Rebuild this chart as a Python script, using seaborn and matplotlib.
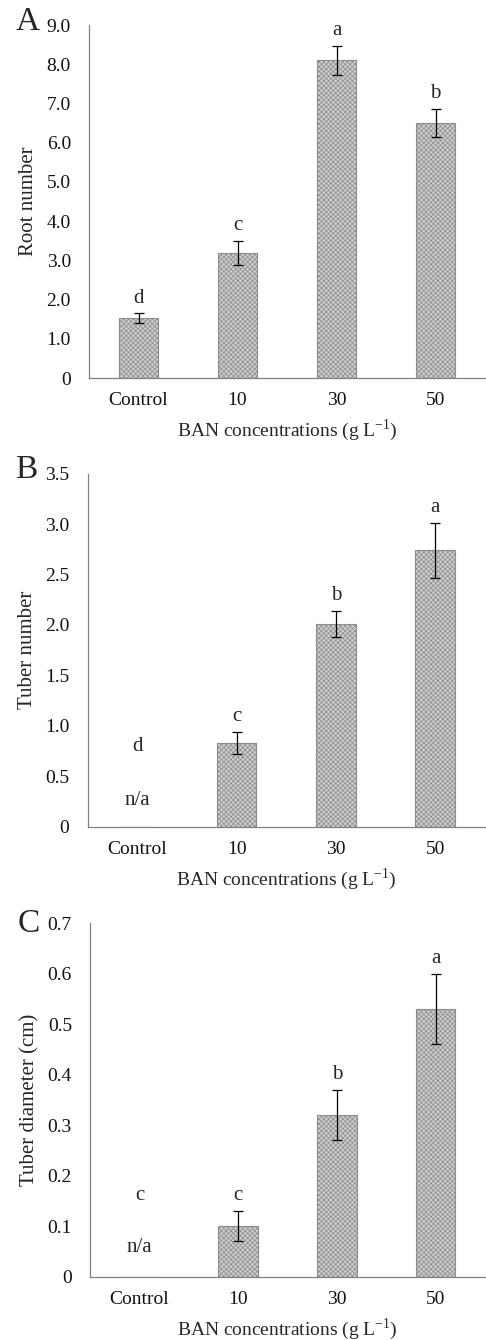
import matplotlib
matplotlib.use("Agg")
import matplotlib.pyplot as plt
import seaborn as sns
import pandas as pd
import numpy as np

sns.set_style("white")
plt.rcParams['font.family'] = ['Liberation Serif', 'DejaVu Serif']
plt.rcParams['hatch.color'] = '#9a9a9a'
plt.rcParams['hatch.linewidth'] = 0.5

categories = ["Control", "10", "30", "50"]

root_mean = [1.53, 3.19, 8.10, 6.50]
root_err = [0.12, 0.31, 0.37, 0.36]
root_letters = ["d", "c", "a", "b"]

tuber_mean = [0.0, 0.83, 2.01, 2.74]
tuber_err = [0.0, 0.11, 0.13, 0.27]
tuber_letters = ["d", "c", "b", "a"]

diam_mean = [0.0, 0.10, 0.32, 0.53]
diam_err = [0.0, 0.03, 0.05, 0.07]
diam_letters = ["c", "c", "b", "a"]

panels = [
    dict(tag="A", mean=root_mean, err=root_err, letters=root_letters,
         ylabel="Root number", ymax=9.0, step=1.0, fmt="{:.1f}",
         na_pos=(0.226, 0.074), tagy=1.01,
         rect=[89/486, 1-378/1340, 396/486, 353/1340]),
    dict(tag="B", mean=tuber_mean, err=tuber_err, letters=tuber_letters,
         ylabel="Tuber number", ymax=3.5, step=0.5, fmt="{:.1f}",
         na_pos=(0.226, 0.074), tagy=1.01,
         rect=[87.5/486, 1-826.7/1340, 397.5/486, 353/1340]),
    dict(tag="C", mean=diam_mean, err=diam_err, letters=diam_letters,
         ylabel="Tuber diameter (cm)", ymax=0.7, step=0.1, fmt="{:.1f}",
         na_pos=(0.229, 0.084), tagy=1.0,
         rect=[90/486, 1-1276.7/1340, 395/486, 353.4/1340]),
]

fig = plt.figure(figsize=(4.86, 13.40), dpi=100)

for p in panels:
    ax = fig.add_axes(p["rect"])
    df = pd.DataFrame({"cat": categories, "val": p["mean"]})
    sns.barplot(data=df, x="cat", y="val", ax=ax, width=0.4, color="#cdcdcd",
                edgecolor="#8c8c8c", linewidth=0.8, errorbar=None, saturation=1)
    for bar in ax.patches:
        bar.set_hatch("xxxxxxx")
    xs = np.arange(len(categories))
    mean = np.array(p["mean"])
    err = np.array(p["err"])
    mask = mean > 0
    ax.errorbar(xs[mask], mean[mask], yerr=err[mask], fmt="none", ecolor="black",
                elinewidth=0.9, capsize=3.3, capthick=0.9)
    ymax = p["ymax"]
    off = ymax * 0.043
    for i, (m, e, L) in enumerate(zip(mean, err, p["letters"])):
        if m > 0:
            ax.text(i, m + e + off, L, ha="center", va="center", fontsize=15)
        else:
            ax.text(i, ymax * p["na_pos"][0], L, ha="center", va="center", fontsize=15)
            ax.text(i, ymax * p["na_pos"][1], "n/a", ha="center", va="center", fontsize=15)
    ax.set_xlim(-0.5, 3.5)
    ax.set_ylim(0, ymax)
    ticks = np.arange(0, ymax + p["step"] / 2, p["step"])
    ax.set_yticks(ticks)
    ax.set_yticklabels(["0" if t == 0 else p["fmt"].format(t) for t in ticks], fontsize=14)
    ax.set_xticks(xs)
    ax.set_xticklabels(categories, fontsize=14)
    ax.set_xticks(np.arange(-0.5, 3.6, 1.0), minor=True)
    ax.tick_params(axis="x", which="major", length=0, pad=10)
    ax.tick_params(axis="x", which="minor", length=3.5, width=0.8, color="#808080", direction="out")
    ax.tick_params(axis="y", which="major", length=3, width=0.8, color="#808080", direction="out", pad=10)
    ax.tick_params(axis="both", labelcolor="#111111")
    for s in ["top", "right"]:
        ax.spines[s].set_visible(False)
    for s in ["left", "bottom"]:
        ax.spines[s].set_color("#808080")
        ax.spines[s].set_linewidth(0.9)
    ax.set_xlabel("BAN concentrations (g L$^{\\mathregular{-1}}$)", fontsize=14, labelpad=6)
    ax.set_ylabel(p["ylabel"], fontsize=15, labelpad=6)
    ax.text(-0.154, p["tagy"], p["tag"], transform=ax.transAxes, fontsize=24,
            ha="center", va="center")

fig.savefig("out.png", dpi=100)
